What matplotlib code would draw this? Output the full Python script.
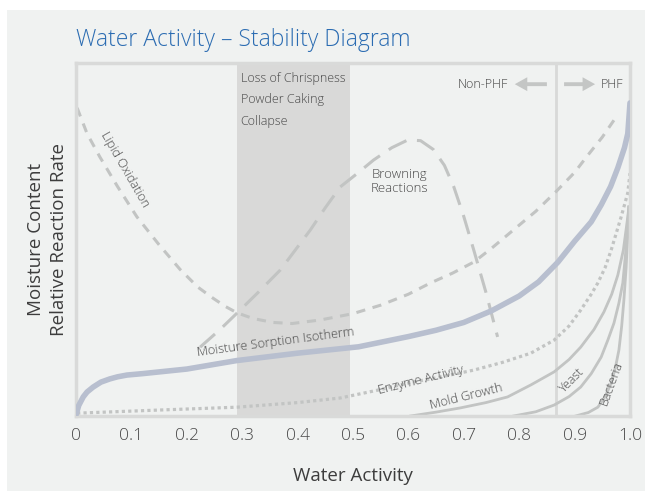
import matplotlib.pyplot as plt
from matplotlib.patches import Rectangle

plt.rcParams['font.family'] = ['Open Sans', 'DejaVu Sans']
plt.rcParams['font.weight'] = 'light'

# curves (x = water activity, y = relative level 0..1)
iso_x = [0, 0.005, 0.013, 0.02, 0.031, 0.045, 0.061, 0.075, 0.092, 0.12, 0.2, 0.29, 0.4,
         0.51, 0.6, 0.65, 0.7, 0.75, 0.8, 0.835, 0.87, 0.9, 0.93, 0.948, 0.965, 0.978,
         0.99, 0.996, 1.0]
iso_y = [0.003, 0.03, 0.054, 0.068, 0.082, 0.096, 0.105, 0.111, 0.116, 0.12, 0.133, 0.157,
         0.178, 0.196, 0.225, 0.243, 0.265, 0.298, 0.34, 0.38, 0.436, 0.495, 0.55, 0.598,
         0.65, 0.703, 0.76, 0.80, 0.887]

lipid_x = [0.002, 0.02, 0.043, 0.075, 0.110, 0.15, 0.188, 0.22, 0.248, 0.27, 0.291, 0.32,
           0.356, 0.39, 0.441, 0.5, 0.550, 0.6, 0.640, 0.68, 0.718, 0.75, 0.785, 0.83,
           0.866, 0.9, 0.924, 0.95, 0.975]
lipid_y = [0.873, 0.80, 0.734, 0.65, 0.564, 0.485, 0.415, 0.365, 0.333, 0.31, 0.292, 0.276,
           0.265, 0.262, 0.272, 0.29, 0.314, 0.345, 0.377, 0.405, 0.436, 0.475, 0.521, 0.58,
           0.635, 0.69, 0.739, 0.79, 0.847]

brown_x = [0.224, 0.26, 0.291, 0.33, 0.369, 0.423, 0.45, 0.477, 0.51, 0.537, 0.57, 0.599,
           0.622, 0.645, 0.665, 0.682, 0.70, 0.718, 0.74, 0.761]
brown_y = [0.195, 0.245, 0.292, 0.352, 0.414, 0.527, 0.59, 0.649, 0.69, 0.725, 0.76, 0.782,
           0.78, 0.755, 0.71, 0.649, 0.565, 0.47, 0.35, 0.224]

enzyme_x = [0.002, 0.152, 0.291, 0.4, 0.477, 0.55, 0.599, 0.65, 0.718, 0.77, 0.821, 0.863,
            0.89, 0.911, 0.93, 0.942, 0.955, 0.966, 0.984, 0.996, 1.0]
enzyme_y = [0.008, 0.017, 0.025, 0.038, 0.051, 0.075, 0.093, 0.108, 0.130, 0.152, 0.178,
            0.215, 0.255, 0.300, 0.345, 0.377, 0.42, 0.470, 0.564, 0.632, 0.688]

mold_x = [0.604, 0.65, 0.694, 0.74, 0.779, 0.821, 0.863, 0.89, 0.911, 0.935, 0.953, 0.967,
          0.978, 0.988, 0.996, 0.998]
mold_y = [0.0, 0.011, 0.023, 0.038, 0.054, 0.088, 0.125, 0.16, 0.195, 0.245, 0.295, 0.345,
          0.399, 0.47, 0.564, 0.592]

yeast_x = [0.790, 0.83, 0.863, 0.89, 0.911, 0.93, 0.948, 0.96, 0.971, 0.98, 0.987, 0.992,
           0.996, 0.998]
yeast_y = [0.0, 0.012, 0.031, 0.055, 0.082, 0.12, 0.167, 0.215, 0.263, 0.32, 0.377, 0.46,
           0.547, 0.592]

bact_x = [0.902, 0.925, 0.942, 0.955, 0.966, 0.974, 0.980, 0.985, 0.989, 0.993, 0.996, 0.998]
bact_y = [0.0, 0.01, 0.025, 0.055, 0.093, 0.14, 0.187, 0.255, 0.329, 0.42, 0.518, 0.592]

band = (0.29, 0.495)
phf_line = 0.866
xticks = [0, 0.1, 0.2, 0.3, 0.4, 0.5, 0.6, 0.7, 0.8, 0.9, 1.0]
xtick_labels = ['0', '0.1', '0.2', '0.3', '0.4', '0.5', '0.6', '0.7', '0.8', '0.9', '1.0']

bg = '#f0f2f1'
grey = '#c2c4c3'
txt = '#474747'

fig = plt.figure(figsize=(6.45, 4.91), dpi=100)
fig.patch.set_facecolor('white')
fig.add_artist(Rectangle((7 / 645, 0), 1, 1 - 10 / 491, transform=fig.transFigure,
                         facecolor=bg, edgecolor='none', zorder=-10))

ax = fig.add_axes([76 / 645, 1 - 416 / 491, 554 / 645, 353 / 491])
ax.set_facecolor(bg)
ax.set_xlim(0, 1.0)
ax.set_ylim(0, 1)

ax.axvspan(*band, color='#d9d9d8', lw=0, zorder=0)
ax.axvline(phf_line, color='#d8d9d8', lw=2, zorder=1)

ax.plot(lipid_x, lipid_y, color=grey, lw=2.2, dashes=(3, 2.5), zorder=2)
ax.plot(brown_x, brown_y, color=grey, lw=2.2, dashes=(6.5, 3.5), zorder=2)
ax.plot(enzyme_x, enzyme_y, color=grey, lw=2.3, linestyle=(0, (1, 1)), zorder=2)
ax.plot(mold_x, mold_y, color=grey, lw=2, zorder=2)
ax.plot(yeast_x, yeast_y, color=grey, lw=2, zorder=2)
ax.plot(bact_x, bact_y, color=grey, lw=2, zorder=2)
ax.plot(iso_x, iso_y, color='#b8bfcf', lw=4, solid_capstyle='round', zorder=3)

ax.text(0.089, 0.697, 'Lipid Oxidation', rotation=-60, fontsize=9, color=txt,
        ha='center', va='center')
ax.text(0.584, 0.663, 'Browning\nReactions', fontsize=9.5, color=txt,
        ha='center', va='center', linespacing=1.1)
ax.text(0.36, 0.21, 'Moisture Sorption Isotherm', rotation=7.5, fontsize=9.2,
        color=txt, ha='center', va='center')
ax.text(0.622, 0.102, 'Enzyme Activity', rotation=14, fontsize=9.2, color=txt,
        ha='center', va='center')
ax.text(0.705, 0.054, 'Mold Growth', rotation=14, fontsize=9.2, color=txt,
        ha='center', va='center')
ax.text(0.895, 0.102, 'Yeast', rotation=45, fontsize=9, color=txt,
        ha='center', va='center')
ax.text(0.966, 0.093, 'Bacteria', rotation=70, fontsize=9, color=txt,
        ha='center', va='center')
ax.text(0.297, 0.975, 'Loss of Chrispness\nPowder Caking\nCollapse', fontsize=9,
        color=txt, ha='left', va='top', linespacing=1.85)

ax.text(0.78, 0.94, 'Non-PHF', fontsize=9, color=txt, ha='right', va='center')
ax.text(0.947, 0.94, 'PHF', fontsize=9, color=txt, ha='left', va='center')
arrow = dict(arrowstyle='simple,head_length=0.9,head_width=1.0,tail_width=0.28',
             color='#c4c6c5', lw=0)
ax.annotate('', xy=(0.787, 0.94), xytext=(0.855, 0.94), arrowprops=arrow)
ax.annotate('', xy=(0.942, 0.94), xytext=(0.876, 0.94), arrowprops=arrow)

for s in ax.spines.values():
    s.set_color('#d9dad9')
    s.set_linewidth(2.5)

ax.set_xticks(xticks)
ax.set_xticklabels(xtick_labels)
ax.set_yticks([])
ax.tick_params(axis='x', length=0, pad=9, labelsize=12.5, labelcolor='#4a4a4a')
ax.set_xlabel('Water Activity', fontsize=13.5, color='#3d3d3d', labelpad=16)
ax.set_ylabel('Moisture Content\nRelative Reaction Rate', fontsize=13.5,
              color='#3d3d3d', labelpad=6, linespacing=1.3)

fig.text(76 / 645, 1 - 40 / 491, 'Water Activity \u2013 Stability Diagram',
         fontsize=16.5, color='#2b6cb2', ha='left', va='center')

fig.savefig('out.png', dpi=100, facecolor=fig.get_facecolor())
